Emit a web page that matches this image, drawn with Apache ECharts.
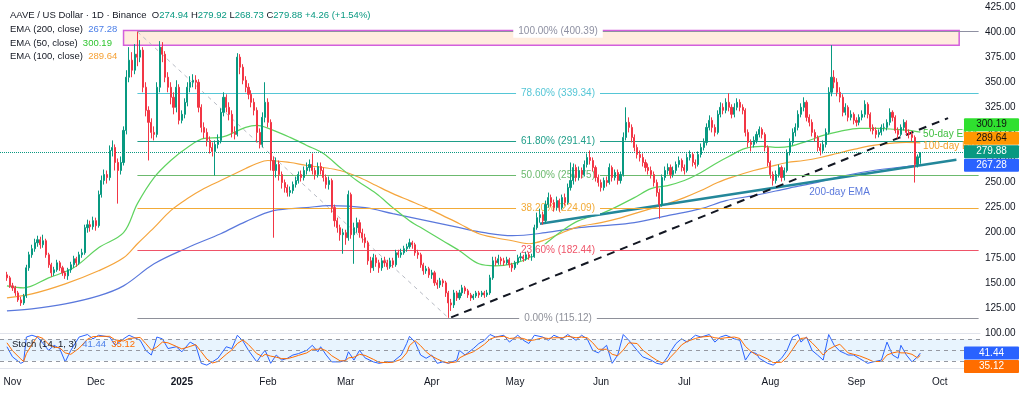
<!DOCTYPE html>
<html>
<head>
<meta charset="utf-8">
<script src="https://cdn.jsdelivr.net/npm/echarts@6.0.0/dist/echarts.min.js"></script>
<style>
html,body{margin:0;padding:0;background:#ffffff;}
#chart{width:1024px;height:399px;}
</style>
</head>
<body>
<div id="chart"></div>
<script>
// ---------------- DATA ----------------
// day offsets are counted from 2024-11-01 (day 0)
const firstDay = -2; // first candle: 2024-10-30
const opens = [
158,155,147,145,140,133,130,137,165,178,184,190,193,188,192,178,168,160,163,170,
165,160,157,163,168,174,170,178,180,205,208,206,212,207,238,252,258,255,282,285,
270,262,270,302,355,372,362,378,375,382,345,322,310,300,298,345,385,378,355,345,
335,325,345,312,318,330,345,350,352,350,325,305,300,292,285,281,288,292,320,335,
325,318,300,298,375,365,352,345,338,330,322,300,288,315,330,310,272,262,268,258,
250,245,240,242,248,252,258,255,262,265,268,262,258,266,262,255,248,252,225,212,
205,198,200,195,238,198,205,210,200,195,190,172,165,175,170,165,172,170,166,172,
168,180,178,180,184,186,190,188,180,178,168,162,164,158,160,150,148,152,150,140,
130,128,140,135,140,145,142,138,135,137,140,138,140,138,140,155,172,170,174,172,
170,173,168,165,170,175,176,174,178,176,176,205,215,218,212,228,235,230,225,232,
225,235,230,245,252,265,255,262,258,268,275,272,265,255,250,245,252,250,265,255,
260,252,258,295,310,305,295,285,278,275,270,265,262,258,250,240,228,255,262,265,
258,262,268,272,265,262,275,278,270,268,278,285,290,305,312,305,300,318,325,322,
330,325,318,325,330,325,322,300,290,288,292,298,303,298,285,270,258,252,258,265,
255,262,280,290,300,305,318,325,330,315,310,300,295,285,282,288,300,340,355,350,
340,335,320,325,315,318,312,310,315,318,328,318,305,302,298,300,305,305,310,320,
315,302,298,305,310,300,298,295,268,274.94
];
const highs = [
161,157,150,147,142,136,139,168,181,188,194,197,196,198,194,180,170,166,173,172,
167,162,165,171,177,176,181,184,208,213,212,216,215,242,257,263,262,287,292,288,
274,276,306,362,385,380,388,400.39,392,385,350,326,314,306,350,391,390,381,360,350,
340,352,348,322,334,350,356,358,357,353,328,310,304,296,290,292,298,324,340,338,
330,322,306,379,378,368,356,349,342,334,325,304,320,350,334,313,276,275,272,261,
253,248,246,251,256,261,262,266,270,273,279,265,270,270,265,258,256,254,228,215,
208,204,203,242,240,210,215,213,204,199,192,176,179,178,173,175,176,173,175,175,
183,183,184,187,189,194,192,190,183,180,170,167,166,163,162,153,155,154,152,142,
134,143,142,143,148,147,144,140,139,142,142,142,142,143,158,176,176,178,176,175,
176,175,170,172,178,180,178,181,180,179,208,220,224,221,232,240,238,233,236,234,
238,239,249,270,269,268,266,265,272,279,282,275,267,258,253,255,256,269,267,263,
263,261,300,325,315,308,298,288,282,279,273,269,266,261,253,244,258,266,269,268,
266,271,276,274,268,279,282,280,273,281,289,294,309,317,315,308,322,330,329,334,
339,328,329,334,333,328,324,303,293,296,301,306,305,300,287,272,261,262,268,267,
265,283,294,304,309,322,329,335,332,318,313,303,297,289,292,304,345,387,362,354,
345,338,329,327,322,320,315,318,322,332,330,320,308,305,303,308,309,313,324,322,
317,305,308,313,312,303,301,297,278,279.92
];
const lows = [
152,145,142,137,131,127,128,135,162,175,181,186,184,185,175,165,156,157,161,162,
157,154,153,160,165,166,168,175,178,200,201,203,202,205,235,248,249,252,276,262,
229,258,267,298,350,355,358,366,370,340,316,272,294,292,295,340,370,350,340,328,
318,320,308,309,314,326,340,345,343,320,300,294,286,279,276,257,284,289,316,320,
312,295,293,296,358,348,340,333,325,317,290,284,285,310,305,262,195,255,252,244,
240,236,236,239,245,249,251,252,258,261,258,253,255,258,251,244,243,220,206,200,
192,179,188,192,194,169,200,195,190,185,168,160,162,166,160,162,166,163,164,165,
166,175,175,178,181,184,184,177,174,165,158,159,155,154,147,144,145,146,136,115.12,
122,125,132,133,137,139,135,132,133,135,135,136,135,136,138,153,167,168,168,167,
168,165,161,163,168,172,171,172,173,172,175,203,210,208,209,225,226,221,222,221,
223,227,228,242,248,251,252,254,256,265,268,261,251,246,241,242,246,248,251,252,
248,249,256,292,300,290,281,274,271,266,261,258,254,246,236,214,226,252,258,254,
255,259,265,261,258,260,272,266,264,266,275,282,287,302,300,296,298,315,318,319,
321,314,315,322,321,318,296,285,281,285,289,295,294,281,266,254,247,249,255,251,
252,260,277,287,296,302,315,321,311,306,296,291,281,277,279,285,298,336,344,336,
330,316,317,311,312,308,306,307,312,315,314,301,298,294,295,297,301,302,307,311,
299,294,296,302,297,294,291,250,265,268.73
];
const closes = [
155,147,145,140,133,130,137,165,178,184,190,193,188,192,178,168,160,163,170,165,
160,157,163,168,174,170,178,180,205,208,206,212,207,238,252,258,255,282,285,270,
262,270,302,355,372,362,378,375,382,345,322,310,300,298,345,385,378,355,345,335,
325,345,312,318,330,345,350,352,350,325,305,300,292,285,281,288,292,320,335,325,
318,300,298,375,365,352,345,338,330,322,300,288,315,330,310,272,262,268,258,250,
245,240,242,248,252,258,255,262,265,268,262,258,266,262,255,248,252,225,212,205,
198,200,195,238,198,205,210,200,195,190,172,165,175,170,165,172,170,166,172,168,
180,178,180,184,186,190,188,180,178,168,162,164,158,160,150,148,152,150,140,130,
128,140,135,140,145,142,138,135,137,140,138,140,138,140,155,172,170,174,172,170,
173,168,165,170,175,176,174,178,176,176,205,215,218,212,228,235,230,225,232,225,
235,230,245,252,265,255,262,258,268,275,272,265,255,250,245,252,250,265,255,260,
252,258,295,310,305,295,285,278,275,270,265,262,258,250,240,228,255,262,265,258,
262,268,272,265,262,275,278,270,268,278,285,290,305,312,305,300,318,325,322,330,
325,318,325,330,325,322,300,290,288,292,298,303,298,285,270,258,252,258,265,255,
262,280,290,300,305,318,325,330,315,310,300,295,285,282,288,300,340,355,350,340,
335,320,325,315,318,312,310,315,318,328,318,305,302,298,300,305,305,310,320,315,
302,298,305,310,300,298,295,268,275.62,279.88
];
// header change values as printed in the reference
const lastChange = 4.26, lastChangePct = 1.54;

// EMA lines, read at sample days
const ema50Days = [-2,4,13,22,31,40,45,51,57,63,69,75,84,88,94,100,106,112,118,124,131,137,143,149,155,161,168,174,180,186,192,198,204,213,224,230,236,242,248,254,258,264,270,276,280,286,292,298,305,312,318,323,327];
const ema50Vals = [147,145,155,165,185,200,229,255,272,285,294,295,305,307,302,295,287,279,265,252,239,225,212,202,192,182,169,167,169,175,189,202,212,220,235,244,247,252,260,270,276,284,286,285,286,291,297,301,304,304,303,302,300.19];
const ema100Days = [-2,7,19,31,40,45,51,57,63,69,75,84,88,92,100,106,112,118,125,131,137,143,149,155,161,168,174,180,186,192,198,204,212,218,224,230,236,242,248,254,260,267,273,279,285,291,297,303,310,316,322,327];
const ema100Vals = [135,139,149,162,175,189,205,222,234,244,252,264,269,272,270,267,265,262,255,247,239,232,225,217,209,199,195,192,189,193,200,206,210,214,219,224,229,235,242,250,256,262,266,270,272,275,279,283,287,289,290,289.64];
const ema200Days = [-2,7,19,31,40,51,63,75,84,94,106,114,127,137,149,161,170,180,192,204,213,224,236,248,257,267,279,291,300,310,322,327];
const ema200Vals = [122,124,129,137,147,169,185,199,211,222,225,227,225,219,212,205,200,197,200,205,207,210,217,224,232,237,244,251,257,262,266,267.28];

// Stochastic (14,1,3), read at sample days
const stochDays = [
-2,0,3,4,5,7,9,11,13,15, 17,19,21,24,27,29,31,35,37,40, 42,46,48,50,52,54,56,59,61,64,
66,68,70,72,74,77,79,81,83,85, 88,90,91,93,95,97,99,101,103,106, 108,110,111,113,115,118,120,121,123,125,
127,130,132,135,137,140,142,143,145,147, 149,151,153,155,157,160,161,163,166,168, 170,172,174,177,179,182,184,186,188,191,
193,195,198,200,203,205,207,209,211,214, 216,218,220,222,225,227,230,232,234,236, 237,239,241,243,246,248,251,253,255,257,
260,262,264,266,268,269,272,274,277,279, 281,283,284,286,288,290,292,294,296,298, 300,301,303,305,308,310,313,315,317,319,
320,322,324,326,327];
const stochK = [
59,31,13,17,86,91,86,68,49,63, 54,17,49,86,93,81,91,86,63,81, 91,77,49,36,86,81,54,59,45,72,
63,13,8,17,27,59,54,91,75,49, 17,40,49,13,36,22,27,36,40,49, 63,45,59,36,17,17,22,45,22,49,
28,17,13,17,17,36,68,88,72,36, 27,36,13,17,13,22,49,36,54,68, 77,93,86,91,72,91,77,68,91,86,
77,91,81,93,77,91,81,49,42,63, 13,36,93,77,49,31,22,13,10,31, 45,68,81,72,91,86,93,72,86,91,
81,77,22,45,40,27,13,8,27,49, 86,93,72,86,49,36,22,93,63,47, 40,36,36,27,13,17,22,72,36,27,
63,36,17,31,41.44];
const stochD = [
70,48,25,18,40,65,88,82,66,58, 56,42,38,55,80,87,88,88,78,75, 82,85,68,50,58,72,70,60,53,60,
65,45,25,14,18,38,50,68,78,65, 40,32,38,33,30,26,26,30,35,42, 52,52,54,48,34,20,20,28,30,38,
35,24,16,15,16,24,42,62,76,62, 45,33,25,18,14,17,28,36,45,55, 66,80,86,88,82,84,82,76,78,84,
82,84,84,88,84,86,84,70,52,52, 38,34,50,70,68,50,32,22,14,20, 30,46,64,74,82,86,88,84,82,84,
86,82,60,46,36,36,25,15,16,30, 52,75,82,84,70,54,36,52,60,66, 50,42,38,34,25,18,18,36,42,45,
42,42,38,28,35.12];

// Fibonacci retracement (from the 2024-12-16 high to the 2025-04-07 low)
const fibRatios = [100, 78.6, 61.8, 50, 38.2, 23.6, 0];
const fibPrices = [400.39, 339.34, 291.41, 257.75, 224.09, 182.44, 115.12];
const fibColors = ['#8e90a2', '#55c6d6', '#1f9e89', '#6cba6e', '#f2ab38', '#ef5468', '#8e9099'];
const fibStartDay = 45, fibEndDay = 348;

// hand-drawn lines (day, price)
const supportTrend = [[158, 115.56], [337, 314.3]];   // black dashed
const emaTrend = [[190, 209], [340, 272.7]];         // teal
const fibDiagonal = [[45, 400.39], [157, 115.12]];   // grey dashed
const supplyZone = {fromDay: 40, toDay: 341, low: 387, high: 401.5};

const monthNames = ['Jan','Feb','Mar','Apr','May','Jun','Jul','Aug','Sep','Oct','Nov','Dec'];

// ---------------- BUILD ----------------
const AXIS_FIRST = -4, AXIS_LAST = 348;
const base = Date.UTC(2024, 10, 1);
const categories = [];
for (let d = AXIS_FIRST; d <= AXIS_LAST; d++) {
  categories.push(new Date(base + d * 86400000).toISOString().slice(0, 10));
}
const ix = d => d - AXIS_FIRST;

const candleData = closes.map((c, i) => [ix(firstDay + i), opens[i], c, lows[i], highs[i]]);
const pairs = (days, vals) => days.map((d, i) => [ix(d), vals[i]]);
const last = closes.length - 1;
const lastClose = closes[last];

const FONT = 'Liberation Sans, Arial, sans-serif';
const UP = '#089981', DOWN = '#f23645';
const C50 = '#5fd35f', C100 = '#f5a53c', C200 = '#5a78dc';

const fibLines = fibPrices.map((p, k) => [
  { coord: [ix(fibStartDay), p], lineStyle: { color: fibColors[k], width: 1, type: 'solid' },
    label: { show: true, position: 'insideMiddle', distance: 0, formatter: fibRatios[k].toFixed(2) + '% (' + p.toFixed(2) + ')',
      color: fibColors[k], fontSize: 10, fontFamily: FONT, backgroundColor: '#ffffff', padding: [1, 5] } },
  { coord: [ix(fibEndDay), p] }
]);

const chart = echarts.init(document.getElementById('chart'));
chart.setOption({
  animation: false,
  backgroundColor: '#ffffff',
  grid: [
    { left: 0, right: 44, top: 0, height: 333 },
    { left: 0, right: 44, top: 332, height: 36 }
  ],
  xAxis: [
    { type: 'category', data: categories, gridIndex: 0,
      axisLine: { show: true, lineStyle: { color: '#e0e3eb' } }, axisTick: { show: false },
      axisLabel: { show: false }, splitLine: { show: false } },
    { type: 'category', data: categories, gridIndex: 1,
      axisLine: { show: true, lineStyle: { color: '#e0e3eb' } }, axisTick: { show: false },
      splitLine: { show: false },
      axisLabel: {
        margin: 9, fontSize: 10, fontFamily: FONT, color: '#131722',
        interval: (i, v) => v.slice(8) === '01',
        formatter: v => { const m = +v.slice(5, 7); return m === 1 ? '{b|' + v.slice(0, 4) + '}' : monthNames[m - 1]; },
        rich: { b: { fontWeight: 'bold', fontSize: 10, fontFamily: FONT, color: '#131722' } }
      } }
  ],
  yAxis: [
    { type: 'value', gridIndex: 0, position: 'right', min: 100, max: 432, interval: 25,
      axisLine: { show: false }, axisTick: { show: false }, splitLine: { show: false },
      axisLabel: { margin: 5, fontSize: 10, fontFamily: FONT, color: '#131722', showMaxLabel: false,
        formatter: v => v.toFixed(2) } },
    { type: 'value', gridIndex: 1, position: 'right', min: 0, max: 100,
      axisLine: { show: false }, axisTick: { show: false }, splitLine: { show: false },
      axisLabel: { show: false } }
  ],
  series: [
    { type: 'line', data: [], xAxisIndex: 0, yAxisIndex: 0, silent: true, z: 1,
      markArea: { silent: true, data: [[
        { coord: [ix(supplyZone.fromDay), supplyZone.high], itemStyle: { color: 'rgba(255,160,90,0.2)', borderColor: '#d35fdc', borderWidth: 1.5 } },
        { coord: [ix(supplyZone.toDay), supplyZone.low] }
      ]] },
      markLine: { silent: true, symbol: ['none', 'none'], data: fibLines }
    },
    { type: 'line', data: fibDiagonal.map(p => [ix(p[0]), p[1]]), showSymbol: false, silent: true, z: 2,
      lineStyle: { color: '#b8bbc4', width: 1, type: [4, 4] } },
    { type: 'line', name: 'EMA200', data: pairs(ema200Days, ema200Vals), smooth: 0.35, showSymbol: false, z: 3,
      lineStyle: { color: C200, width: 1.2 } },
    { type: 'line', name: 'EMA100', data: pairs(ema100Days, ema100Vals), smooth: 0.35, showSymbol: false, z: 3,
      lineStyle: { color: C100, width: 1.2 } },
    { type: 'line', name: 'EMA50', data: pairs(ema50Days, ema50Vals), smooth: 0.35, showSymbol: false, z: 3,
      lineStyle: { color: C50, width: 1.2 } },
    { type: 'line', data: emaTrend.map(p => [ix(p[0]), p[1]]), showSymbol: false, silent: true, z: 4,
      lineStyle: { color: '#23879a', width: 2.5 } },
    { type: 'line', data: supportTrend.map(p => [ix(p[0]), p[1]]), showSymbol: false, silent: true, z: 4,
      lineStyle: { color: '#131722', width: 2, type: [8, 6] } },
    { type: 'candlestick', data: candleData, encode: { x: 0, y: [1, 2, 3, 4] }, barWidth: 1.6, z: 5,
      itemStyle: { color: UP, color0: DOWN, borderColor: UP, borderColor0: DOWN, borderWidth: 1 },
      markLine: { silent: true, symbol: ['none', 'none'], label: { show: false },
        lineStyle: { color: UP, type: 'dotted', width: 1 }, data: [{ yAxis: lastClose }] },
      markPoint: { silent: true, symbol: 'circle', symbolSize: 0, data: [
        { coord: [ix(287), 240.5], label: { show: true, position: 'right', distance: 0, formatter: '200-day EMA', color: '#5a78dc', fontSize: 10, fontFamily: FONT } },
        { coord: [ix(328), 298.3], label: { show: true, position: 'right', distance: 0, formatter: '50-day EMA', color: '#3fbf3f', fontSize: 10, fontFamily: FONT } },
        { coord: [ix(328), 285.7], label: { show: true, position: 'right', distance: 0, formatter: '100-day EMA', color: '#f2a02c', fontSize: 10, fontFamily: FONT } }
      ] } },
    { type: 'line', name: '%K', data: pairs(stochDays, stochK), xAxisIndex: 1, yAxisIndex: 1, showSymbol: false, z: 3,
      lineStyle: { color: '#2962ff', width: 1 },
      markArea: { silent: true, itemStyle: { color: 'rgba(33,150,243,0.1)' }, data: [[{ yAxis: 20 }, { yAxis: 80 }]] },
      markLine: { silent: true, symbol: ['none', 'none'], label: { show: false },
        lineStyle: { color: '#9598a1', type: [4, 4], width: 1 },
        data: [{ yAxis: 80 }, { yAxis: 50 }, { yAxis: 20 }] } },
    { type: 'line', name: '%D', data: pairs(stochDays, stochD), xAxisIndex: 1, yAxisIndex: 1, showSymbol: false, z: 3,
      lineStyle: { color: '#ff6d00', width: 1 } }
  ]
});

// ---------------- overlay text & price tags ----------------
const yMain = v => chart.convertToPixel({ yAxisIndex: 0 }, v);
const yStoch = v => chart.convertToPixel({ yAxisIndex: 1 }, v);
const TAG_H = 13, TAG_X = 964, TAG_W = 55;

function stackTags(list, yFn, upward) {
  const sorted = list.slice().sort((a, b) => upward ? a.v - b.v : b.v - a.v);
  let prev = null;
  sorted.forEach(t => {
    let y = yFn(t.v);
    if (prev !== null) y = upward ? Math.min(y, prev - 13.5) : Math.max(y, prev + 13.5);
    t.y = y; prev = y;
  });
  return sorted;
}
const mainTags = stackTags([
  { v: ema50Vals[ema50Vals.length - 1], bg: '#2fe02f', fg: '#111111' },
  { v: ema100Vals[ema100Vals.length - 1], bg: '#ff9800', fg: '#111111' },
  { v: lastClose, bg: UP, fg: '#ffffff' },
  { v: ema200Vals[ema200Vals.length - 1], bg: '#2962ff', fg: '#ffffff' }
], yMain, true);
const stochTags = stackTags([
  { v: stochK[stochK.length - 1], bg: '#2962ff', fg: '#ffffff' },
  { v: stochD[stochD.length - 1], bg: '#ff6d00', fg: '#ffffff' }
], yStoch, false);

const graphics = [];
mainTags.concat(stochTags).forEach(t => {
  graphics.push({ type: 'rect', z: 50, shape: { x: TAG_X, y: t.y - TAG_H / 2, width: TAG_W, height: TAG_H, r: 1 }, style: { fill: t.bg } });
  graphics.push({ type: 'text', z: 51, style: { x: TAG_X + TAG_W / 2, y: t.y, text: t.v.toFixed(2), fill: t.fg,
    font: '10px ' + FONT, align: 'center', verticalAlign: 'middle' } });
});

const LF = 9.5;
const txtRich = {
  d: { fill: '#131722', fontSize: LF, fontFamily: FONT },
  g: { fill: UP, fontSize: LF, fontFamily: FONT },
  b: { fill: '#4a7ee8', fontSize: LF, fontFamily: FONT },
  gr: { fill: '#2fc52f', fontSize: LF, fontFamily: FONT },
  o: { fill: '#f5a033', fontSize: LF, fontFamily: FONT },
  or: { fill: '#ff6d00', fontSize: LF, fontFamily: FONT }
};
const f2 = v => v.toFixed(2);
const legendRows = [
  { y: 15, x: 10, text: '{d|AAVE / US Dollar · 1D · Binance}  {d|O}{g|' + f2(opens[last]) + '} {d|H}{g|' + f2(highs[last]) +
      '} {d|L}{g|' + f2(lows[last]) + '} {d|C}{g|' + f2(lastClose) + '} {g|+' + f2(lastChange) + ' (+' + f2(lastChangePct) + '%)}' },
  { y: 29, x: 10, text: '{d|EMA (200, close)}  {b|' + f2(ema200Vals[ema200Vals.length - 1]) + '}' },
  { y: 43, x: 10, text: '{d|EMA (50, close)}  {gr|' + f2(ema50Vals[ema50Vals.length - 1]) + '}' },
  { y: 56, x: 10, text: '{d|EMA (100, close)}  {o|' + f2(ema100Vals[ema100Vals.length - 1]) + '}' },
  { y: 344, x: 12, text: '{d|Stoch (14, 1, 3)}  {b|' + f2(stochK[stochK.length - 1]) + '}  {or|' + f2(stochD[stochD.length - 1]) + '}' }
];
legendRows.forEach(r => {
  graphics.push({ type: 'text', z: 60, style: { x: r.x, y: r.y, text: r.text, rich: txtRich,
    font: LF + 'px ' + FONT, verticalAlign: 'middle', align: 'left' } });
});

chart.setOption({ graphic: graphics });
</script>
</body>
</html>
